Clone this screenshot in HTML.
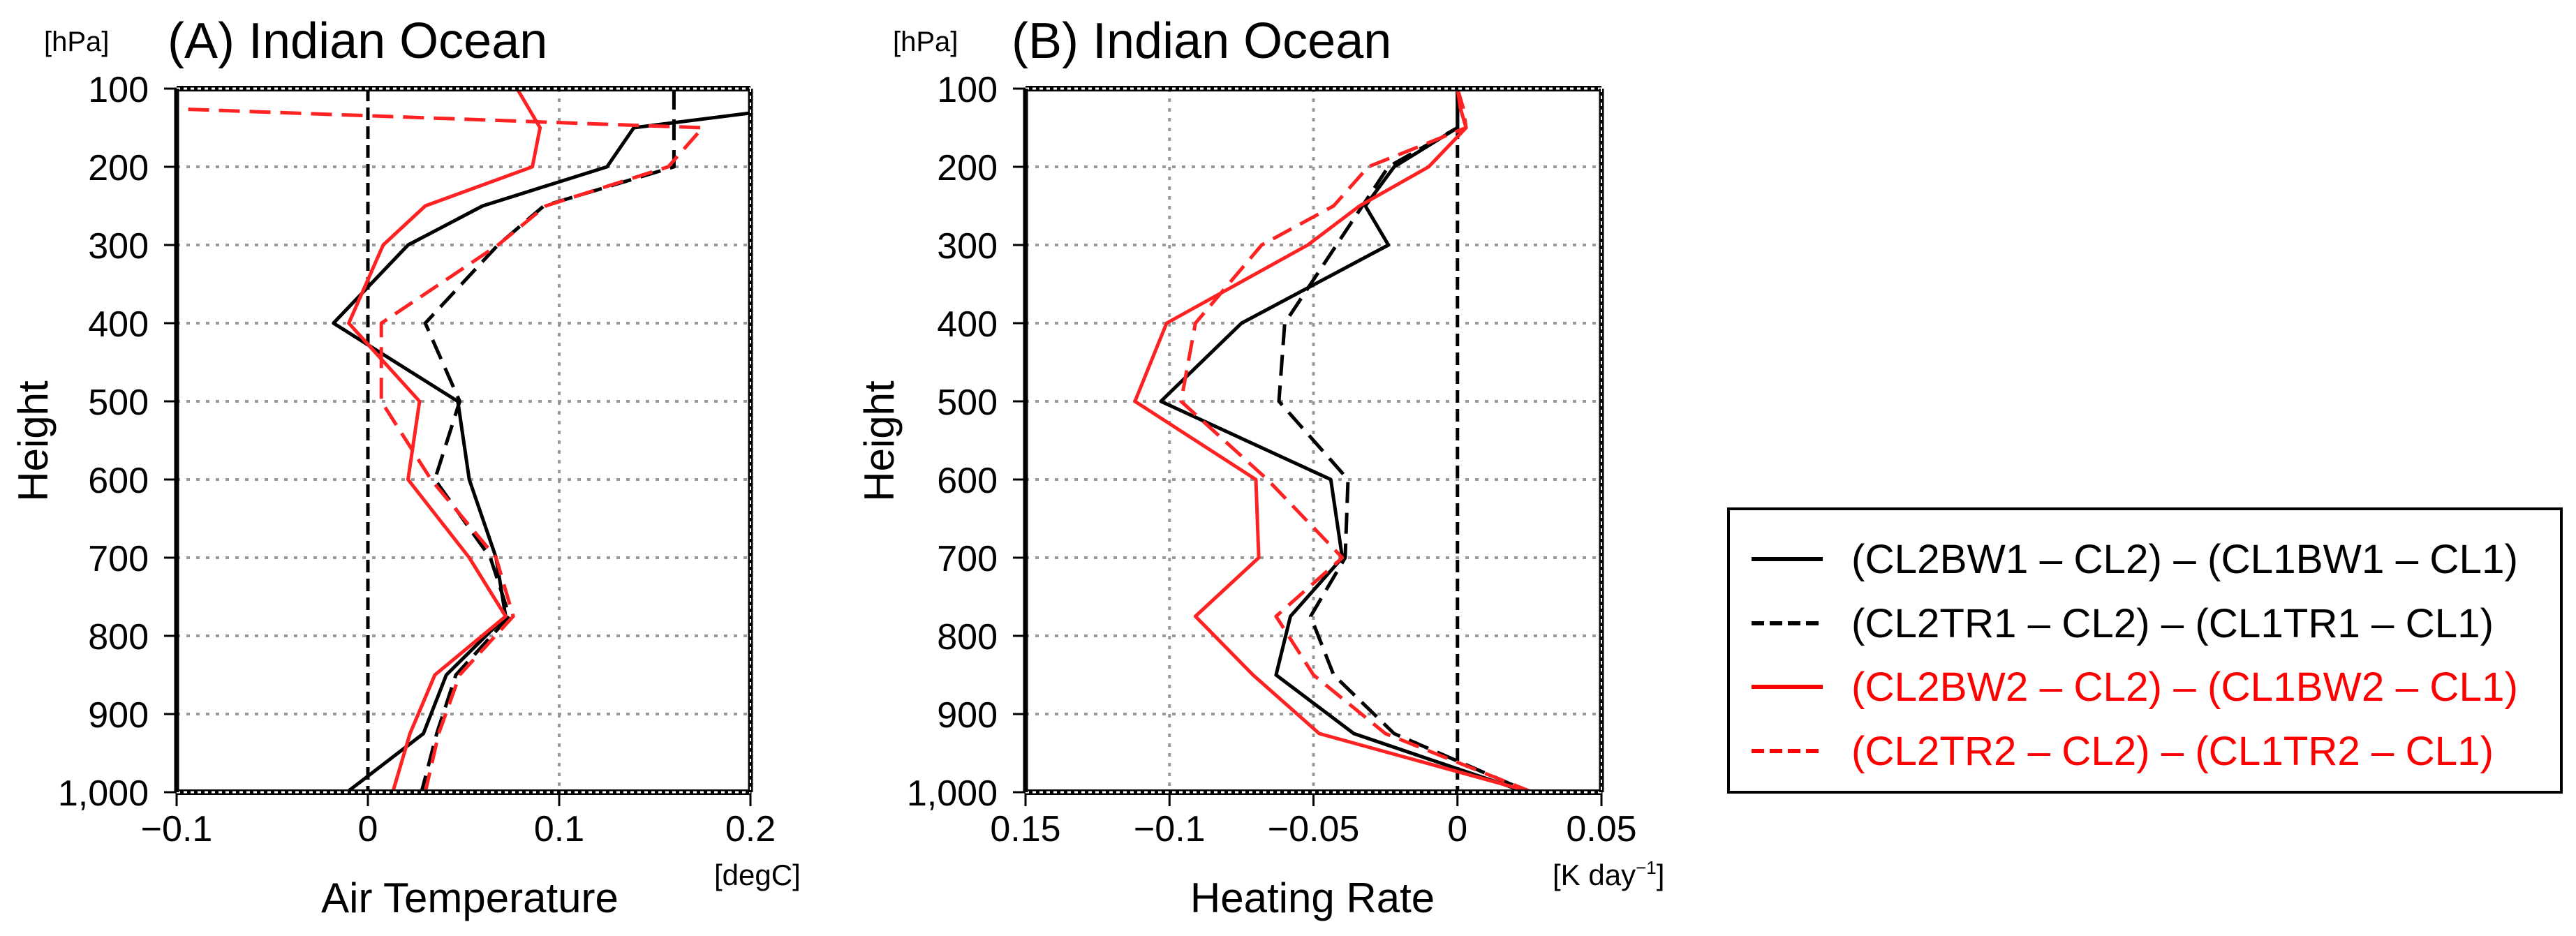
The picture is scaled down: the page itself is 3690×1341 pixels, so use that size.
<!DOCTYPE html>
<html><head><meta charset="utf-8"><style>
html,body{margin:0;padding:0;background:#fff;}
svg{display:block;font-family:"Liberation Sans",sans-serif;}
</style></head><body>
<svg id="fig" width="3690" height="1341" viewBox="0 0 3690 1341" xmlns="http://www.w3.org/2000/svg">
<g id="pa"></g>
<g id="pb"></g>
<g id="legend">
<rect x="2476" y="729" width="1193" height="406" fill="#fff" stroke="#000" stroke-width="4"/>
<g><line x1="2509" y1="801" x2="2611" y2="801" stroke="#000" stroke-width="6"/><text x="2652" y="821" font-size="58" textLength="955" lengthAdjust="spacingAndGlyphs" fill="#000">(CL2BW1 – CL2) – (CL1BW1 – CL1)</text></g>
<g><line x1="2509" y1="893" x2="2611" y2="893" stroke="#000" stroke-width="6" stroke-dasharray="18,8"/><text x="2652" y="913" font-size="58" textLength="920" lengthAdjust="spacingAndGlyphs" fill="#000">(CL2TR1 – CL2) – (CL1TR1 – CL1)</text></g>
<g><line x1="2509" y1="984" x2="2611" y2="984" stroke="#f00" stroke-width="6"/><text x="2652" y="1004" font-size="58" textLength="955" lengthAdjust="spacingAndGlyphs" fill="#f00">(CL2BW2 – CL2) – (CL1BW2 – CL1)</text></g>
<g><line x1="2509" y1="1076" x2="2611" y2="1076" stroke="#f00" stroke-width="6" stroke-dasharray="18,8"/><text x="2652" y="1096" font-size="58" textLength="920" lengthAdjust="spacingAndGlyphs" fill="#f00">(CL2TR2 – CL2) – (CL1TR2 – CL1)</text></g>
</g>
</svg>
<script>
// ---- shared data ----
const yTicks = [100,200,300,400,500,600,700,800,900,1000];
const yTickLabels = ["100","200","300","400","500","600","700","800","900","1,000"];
const levels = [100,125,150,200,250,300,400,500,600,700,775,850,925,1000];
// Panel A (degC)
const aXTicks = [-0.1,0,0.1,0.2];
const aXTickLabels = ["\u22120.1","0","0.1","0.2"];
const aBW1 = [null,0.22,0.139,0.125,0.06,0.021,-0.018,0.047,0.053,0.067,0.072,0.041,0.029,-0.011];
const aTR1 = [0.16,0.16,0.16,0.16,0.092,0.068,0.03,0.048,0.035,0.064,0.074,0.046,0.036,0.028];
const aBW2 = [0.078,0.084,0.09,0.086,0.03,0.008,-0.01,0.027,0.021,0.053,0.072,0.035,0.022,0.013];
const aTR2 = [null,-0.11,0.175,0.157,0.093,0.068,0.007,0.007,0.033,0.067,0.076,0.048,0.037,0.03];
// Panel B (K/day)
const bXTicks = [-0.15,-0.1,-0.05,0,0.05];
const bXTickLabels = ["0.15","\u22120.1","\u22120.05","0","0.05"];
const bBW1 = [0,0,0,-0.022,-0.032,-0.024,-0.075,-0.103,-0.044,-0.04,-0.058,-0.063,-0.036,0.024];
const bTR1 = [0,0,0,-0.024,-0.033,-0.042,-0.06,-0.062,-0.038,-0.039,-0.051,-0.043,-0.022,0.025];
const bBW2 = [0,0.001,0.003,-0.01,-0.034,-0.052,-0.101,-0.112,-0.07,-0.069,-0.091,-0.071,-0.048,0.026];
const bTR2 = [0,0.002,0.003,-0.031,-0.043,-0.068,-0.091,-0.096,-0.066,-0.04,-0.063,-0.05,-0.025,0.026];

const NS="http://www.w3.org/2000/svg";
function mk(parent,tag,attrs,text){const e=document.createElementNS(NS,tag);for(const k in attrs)e.setAttribute(k,attrs[k]);if(text!==undefined)e.textContent=text;parent.appendChild(e);return e;}
const Y0=127,Y1=1135;
function yScale(p){return Y0+(p-100)/900*(Y1-Y0);}

function panel(g,cfg){
  const xs=v=>cfg.x0+(v-cfg.xmin)/(cfg.xmax-cfg.xmin)*(cfg.x1-cfg.x0);
  const clipId=cfg.id+'clip';
  const defs=mk(g,'defs',{});
  const cp=mk(defs,'clipPath',{id:clipId});
  mk(cp,'rect',{x:cfg.x0,y:Y0,width:cfg.x1-cfg.x0,height:Y1-Y0});
  // grid
  yTicks.forEach((p,i)=>{
    if(i>0&&i<yTicks.length-1){const l=mk(g,'line',{x1:cfg.x0,x2:cfg.x1,y1:yScale(p),y2:yScale(p),stroke:'#999','stroke-width':4,'stroke-dasharray':'5,9'});
    
    }
    const t=mk(g,'line',{x1:cfg.x0-18,x2:cfg.x0,y1:yScale(p),y2:yScale(p),stroke:'#000','stroke-width':3});
    
    
    const lb=mk(g,'text',{x:cfg.x0-40,y:yScale(p)+19,'font-size':52,'text-anchor':'end'},yTickLabels[i]);
    
    
  });
  cfg.ticks.forEach((v,i)=>{
    const x=xs(v);
    if(v!==0&&i>0&&i<cfg.ticks.length-1){const l=mk(g,'line',{x1:x,x2:x,y1:Y0,y2:Y1,stroke:'#999','stroke-width':4,'stroke-dasharray':'5,9'});
    
    }
    const t=mk(g,'line',{x1:x,x2:x,y1:Y1,y2:Y1+20,stroke:'#000','stroke-width':3});
    
    
    const lb=mk(g,'text',{x:x,y:1205,'font-size':52,'text-anchor':'middle'},cfg.tickLabels[i]);
    
    
  });
  // zero line
  const z=mk(g,'line',{x1:xs(0),x2:xs(0),y1:Y0,y2:Y1,stroke:'#000','stroke-width':5,'stroke-dasharray':'18,9'});
  
  
  // series
  const lg=mk(g,'g',{'clip-path':'url(#'+clipId+')'});
  cfg.series.forEach(s=>{
    const pts=[];s.vals.forEach((v,i)=>{if(v!==null)pts.push(xs(v).toFixed(1)+','+yScale(levels[i]).toFixed(1));});
    const pl=mk(lg,'polyline',{points:pts.join(' '),fill:'none',stroke:s.color,'stroke-width':5,'stroke-linejoin':'round','stroke-dasharray':s.dash?'30,14':'none'});
    
    
  });
  // frame
  const fr=mk(g,'g',{});
  
  
  mk(fr,'line',{x1:cfg.x0,x2:cfg.x1,y1:Y0,y2:Y0,stroke:'#000','stroke-width':8});
  mk(fr,'line',{x1:cfg.x0,x2:cfg.x1,y1:Y0,y2:Y0,stroke:'#fff','stroke-width':3,'stroke-dasharray':'5,5'});
  mk(fr,'line',{x1:cfg.x0,x2:cfg.x1,y1:Y1,y2:Y1,stroke:'#000','stroke-width':8});
  mk(fr,'line',{x1:cfg.x0,x2:cfg.x1,y1:Y1,y2:Y1,stroke:'#fff','stroke-width':3,'stroke-dasharray':'5,5'});
  mk(fr,'line',{x1:cfg.x0,x2:cfg.x0,y1:Y0,y2:Y1,stroke:'#000','stroke-width':7});
  mk(fr,'line',{x1:cfg.x1,x2:cfg.x1,y1:Y0,y2:Y1,stroke:'#000','stroke-width':7});
  mk(fr,'line',{x1:cfg.x1,x2:cfg.x1,y1:Y0,y2:Y1,stroke:'#fff','stroke-width':2,'stroke-dasharray':'5,5'});
  // labels
  let t=mk(g,'text',{x:cfg.titleX,y:83,'font-size':72},cfg.title);
  
  
  t=mk(g,'text',{x:cfg.hpaX,y:73,'font-size':40},'[hPa]');
  
  
  t=mk(g,'text',{x:cfg.heightX,y:632,'font-size':60,'text-anchor':'middle',transform:'rotate(-90 '+cfg.heightX+' 632)'},'Height');
  
  
  t=mk(g,'text',{x:cfg.xTitleX,y:1307,'font-size':60,'text-anchor':'middle'},cfg.xTitle);
  
  
  t=mk(g,'text',{x:cfg.unitX,y:1268,'font-size':42},cfg.unit);
  
  
  return t;
}
panel(document.getElementById('pa'),{id:'a',x0:253,x1:1075,xmin:-0.1,xmax:0.2,ticks:aXTicks,tickLabels:aXTickLabels,
  title:'(A) Indian Ocean',titleX:240,hpaX:63,heightX:68,xTitle:'Air Temperature',xTitleX:673,unit:'[degC]',unitX:1023,
  series:[{name:'series-bw1',vals:aBW1,color:'#000',dash:false},{name:'series-tr1',vals:aTR1,color:'#000',dash:true},
          {name:'series-bw2',vals:aBW2,color:'#f22',dash:false},{name:'series-tr2',vals:aTR2,color:'#f22',dash:true}]});
const ut=panel(document.getElementById('pb'),{id:'b',x0:1469,x1:2294,xmin:-0.15,xmax:0.05,ticks:bXTicks,tickLabels:bXTickLabels,
  title:'(B) Indian Ocean',titleX:1449,hpaX:1279,heightX:1280,xTitle:'Heating Rate',xTitleX:1880,unit:'[K day',unitX:2224,
  series:[{name:'series-bw1',vals:bBW1,color:'#000',dash:false},{name:'series-tr1',vals:bTR1,color:'#000',dash:true},
          {name:'series-bw2',vals:bBW2,color:'#f22',dash:false},{name:'series-tr2',vals:bTR2,color:'#f22',dash:true}]});
mk(ut,'tspan',{'font-size':26,dy:-16},'\u22121');
mk(ut,'tspan',{dy:16},']');
</script>
</body></html>
